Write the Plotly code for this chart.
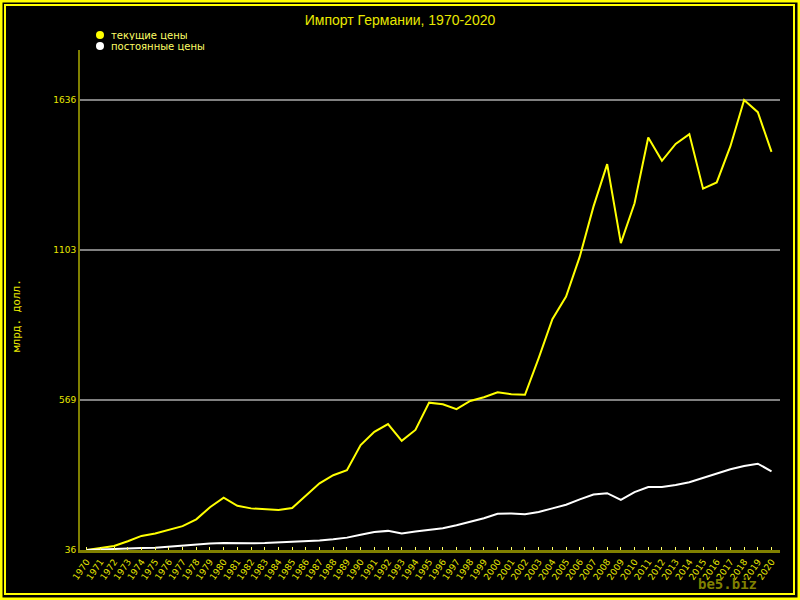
import plotly.graph_objects as go

years = list(range(1970, 2021))

# текущие цены, млрд. долл.
current = [36, 42, 50, 67, 86, 95, 107, 121, 145, 188,
           222, 193, 184, 181, 178, 185, 228, 273, 302, 320,
           409, 456, 484, 424, 463, 560, 554, 537, 566, 579,
           597, 590, 588, 718, 857, 937, 1079, 1257, 1408, 1127,
           1269, 1503, 1420, 1480, 1515, 1321, 1343, 1472, 1636, 1593,
           1452]

# постоянные цены, млрд. долл.
constant = [36, 38, 41, 42, 43, 44, 48, 50, 54, 59,
            61, 60, 60, 61, 63, 66, 68, 70, 74, 80,
            90, 100, 104, 95, 102, 108, 113, 124, 136, 149,
            165, 166, 163, 171, 184, 197, 216, 233, 238, 214,
            242, 260, 260, 267, 277, 293, 307, 323, 335, 343,
            316]

series_names = ['текущие цены', 'постоянные цены']
series_colors = ['#ffff00', '#ffffff']

y_ticks = [36, 569.33, 1102.67, 1636]
y_labels = ["36", "569", "1103", "1636"]

# plot area in pixels: x 80..780, y 50..550
L, T, W, H = 80, 50, 700, 500


def px(x):
    return (x - L) / W


def py(y):
    return (T + H - y) / H


fig = go.Figure()
for name, vals, col in zip(series_names, [current, constant], series_colors):
    fig.add_trace(go.Scatter(x=years, y=vals, mode='lines', name=name,
                             showlegend=False, hoverinfo='skip',
                             line=dict(color=col, width=2)))

border = '#ffff00'
shapes = [
    dict(type='rect', xref='paper', yref='paper',
         x0=px(1), x1=px(799), y0=py(1), y1=py(599),
         line=dict(color=border, width=3)),
    dict(type='rect', xref='paper', yref='paper',
         x0=px(5), x1=px(794), y0=py(5), y1=py(594),
         line=dict(color=border, width=2)),
]
annotations = [
    dict(text='млрд. долл.', textangle=-90, xref='paper', yref='paper',
         x=px(16), y=py(316), xanchor='center', yanchor='middle',
         showarrow=False,
         font=dict(family='DejaVu Sans Mono', size=11, color='#e8e800')),
    dict(text='<b>be5.biz</b>', xref='paper', yref='paper',
         x=px(727), y=py(584), xanchor='center', yanchor='middle',
         showarrow=False,
         font=dict(family='DejaVu Sans Mono', size=14, color='#808000')),
]

# hand-made legend: dots + text, about 10px apart
for i, (name, col) in enumerate(zip(series_names, series_colors)):
    cy = 35 + 11 * i
    shapes.append(dict(type='circle', xref='paper', yref='paper',
                       x0=px(100 - 4), x1=px(100 + 4), y0=py(cy + 4), y1=py(cy - 4),
                       fillcolor=col, line=dict(color=col, width=0)))
    annotations.append(dict(text=name, xref='paper', yref='paper',
                            x=px(109), y=py(cy), xanchor='left', yanchor='middle',
                            showarrow=False, height=10,
                            font=dict(family='DejaVu Sans', size=10, color='#ffff66')))

fig.update_layout(
    width=800, height=600,
    margin=dict(l=L, r=800 - L - W, t=T, b=600 - T - H),
    paper_bgcolor='black',
    plot_bgcolor='black',
    title=dict(text='Импорт Германии, 1970-2020',
               x=px(430), xanchor='center', y=1 - 20 / 600, yanchor='middle',
               font=dict(family='Liberation Sans', size=14, color='#e8e800')),
    showlegend=False,
    xaxis=dict(range=[1969.51, 2020.62], tickvals=years,
               ticktext=[str(y) for y in years], tickangle=-55,
               tickfont=dict(family='DejaVu Sans', size=9, color='#e8e800'),
               showgrid=False, zeroline=False,
               showline=True, linecolor='#808000', linewidth=3,
               ticks='inside', ticklen=3, tickcolor='#ffff66', tickwidth=1),
    yaxis=dict(range=[36, 1814], tickvals=y_ticks, ticktext=y_labels,
               tickfont=dict(family='DejaVu Sans', size=9, color='#e8e800'),
               showgrid=True, gridcolor='#808080', gridwidth=2,
               zeroline=False, showline=True, linecolor='#808000',
               linewidth=2, ticks=''),
    shapes=shapes,
    annotations=annotations,
)

fig.write_html("out.html", config={'displayModeBar': False},
               post_script="document.body.style.margin='0';")
